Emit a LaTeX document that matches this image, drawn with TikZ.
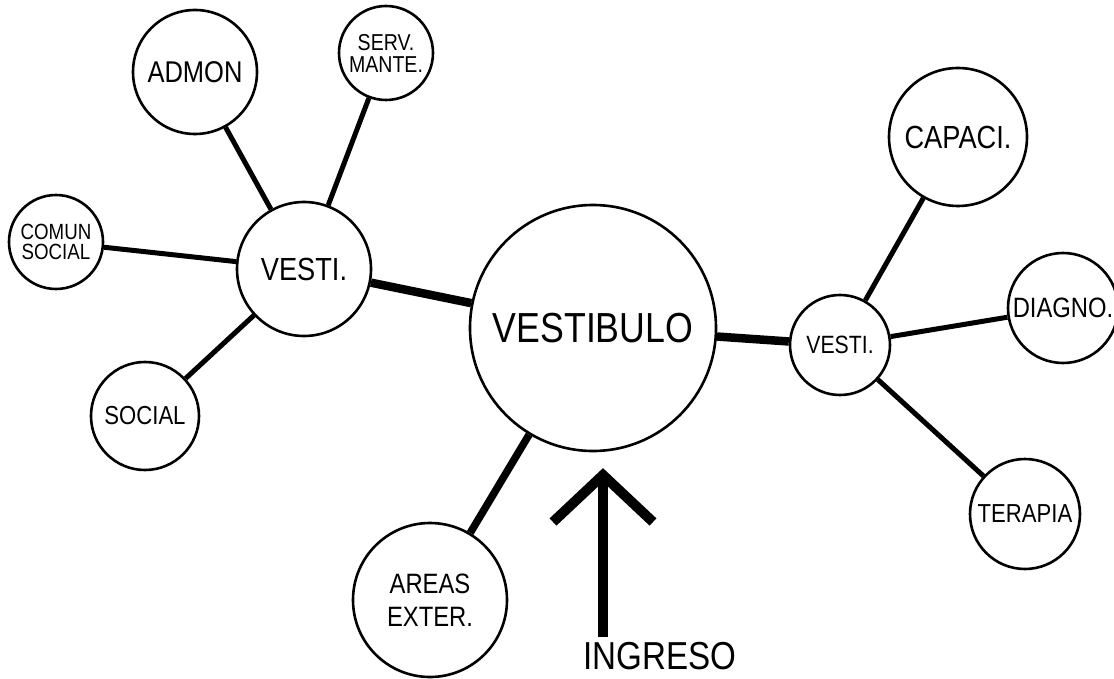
\documentclass[tikz,border=0pt]{standalone}
\usepackage{fontspec}
\setmainfont{Liberation Sans}[FakeStretch=0.85]
\usepackage{tikz}
\usetikzlibrary{positioning}

\begin{document}
\begin{tikzpicture}[
    x=1pt, y=-1pt,
    espacio/.style={
		circle,
		draw=black,
		line width=2.6pt,
		inner sep=0pt,
		align=center,
		fill=white
	},
	liga/.style={
		line width=5pt
	},
	ligagruesa/.style={
		line width=8.5pt
	},
	flecha/.style={
		line width=10pt
	}
  ]
  \useasboundingbox (0,0) rectangle (1114,679);
    % We start by placing the blocks

  \node [espacio, minimum size=246pt, font=\fontsize{42}{42}\selectfont] (vestibulo) at (593,328) {VESTIBULO};

  \node [espacio, minimum size=134pt, font=\fontsize{32}{32}\selectfont] (vestiizq) at (304,269) {VESTI.};
  \node [espacio, minimum size=124pt, font=\fontsize{30}{30}\selectfont] (admon) at (195,72) {ADMON};
  \node [espacio, minimum size=94pt, font=\fontsize{23}{22}\selectfont] (serv) at (386,53) {SERV.\\MANTE.};
  \node [espacio, minimum size=94pt, font=\fontsize{22}{20}\selectfont] (comun) at (56,242) {COMUN\\SOCIAL};
  \node [espacio, minimum size=108pt, font=\fontsize{26}{26}\selectfont] (social) at (145,416) {SOCIAL};

  \node [espacio, minimum size=154pt, font=\fontsize{28}{33}\selectfont] (areas) at (430,600) {AREAS\\EXTER.};

  \node [espacio, minimum size=100pt, font=\fontsize{25}{25}\selectfont] (vestider) at (840,345) {VESTI.};
  \node [espacio, minimum size=138pt, font=\fontsize{32}{32}\selectfont] (capaci) at (958,137) {CAPACI.};
  \node [espacio, minimum size=110pt, font=\fontsize{28}{28}\selectfont] (diagno) at (1063,308) {DIAGNO.};
  \node [espacio, minimum size=110pt, font=\fontsize{26}{26}\selectfont] (terapia) at (1025,514) {TERAPIA};

  \node [inner sep=2pt, font=\fontsize{39}{39}\selectfont] (ingreso) at (660,656) {INGRESO};
  \coordinate (punta) at (603,475);
  \coordinate (base) at (603,637);

  % connectors
  \draw [liga] (vestiizq) -- (admon);
  \draw [liga] (vestiizq) -- (serv);
  \draw [liga] (vestiizq) -- (comun);
  \draw [liga] (vestiizq) -- (social);
  \draw [ligagruesa] (vestiizq) -- (vestibulo);
  \draw [line width=7.5pt] (vestibulo) -- (areas);
  \draw [ligagruesa] (vestibulo) -- (vestider);
  \draw [liga] (vestider) -- (capaci);
  \draw [liga] (vestider) -- (diagno);
  \draw [liga] (vestider) -- (terapia);

  % ingreso
  \draw [flecha] (base) -- (punta);
  \draw [flecha] (punta) ++(-50,47) -- (punta) -- ++(50,47);

\end{tikzpicture}
\end{document}
